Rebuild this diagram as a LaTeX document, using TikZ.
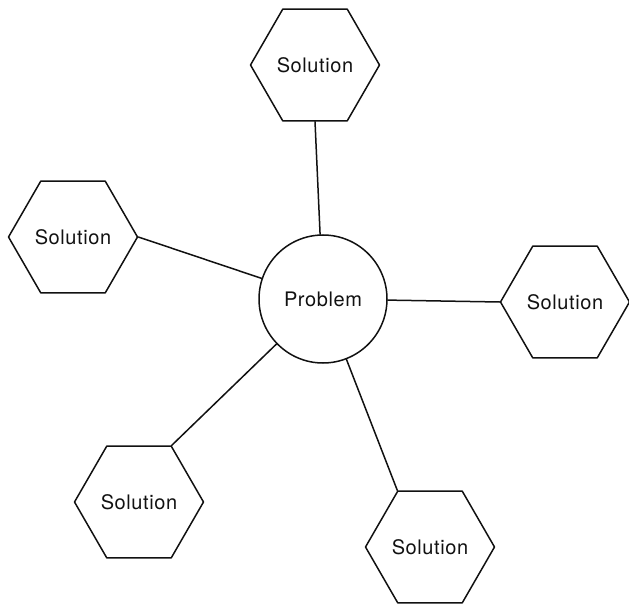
\documentclass[tikz,border=0pt]{standalone}
\usepackage{fontspec}
\setmainfont{TeX Gyre Heros}[LetterSpace=3]
\usepackage{xcolor}
\usetikzlibrary{shapes.geometric}
\definecolor{ink}{HTML}{111111}
\tikzset{
  hex/.style={draw=ink, regular polygon, regular polygon sides=6, minimum size=129pt, inner sep=0pt, line width=1.5pt, line join=round, font=\fontsize{20}{21}\selectfont, text=ink},
  prob/.style={draw=ink, circle, minimum size=128pt, inner sep=0pt, line width=1.5pt, font=\fontsize{20}{21}\selectfont, text=ink},
  link/.style={draw=ink, line width=1.5pt, line cap=round},
}
\begin{document}
\begin{tikzpicture}[x=1pt,y=-1pt]
  \useasboundingbox (0,0) rectangle (629,604);
  \node[prob] (P) at (323,299) {Problem};
  \node[hex] (sT) at (315,65) {Solution};
  \node[hex] (sL) at (73,237) {Solution};
  \node[hex] (sR) at (565,302) {Solution};
  \node[hex] (sBL) at (139,502) {Solution};
  \node[hex] (sBR) at (430,547) {Solution};
  \draw[link] (sT.south) -- (P);
  \draw[link] (sL.east) -- (P);
  \draw[link] (sR.west) -- (P);
  \draw[link] (sBL.60) -- (P);
  \draw[link] (sBR.120) -- (P);
\end{tikzpicture}
\end{document}
